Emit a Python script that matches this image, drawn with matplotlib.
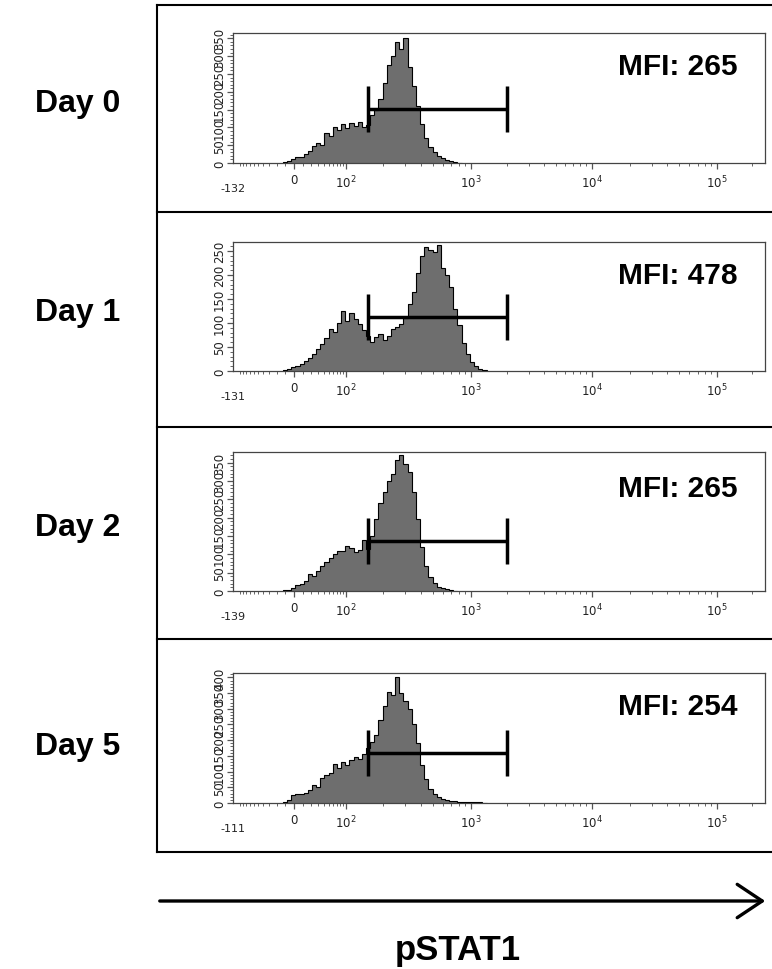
import numpy as np
import matplotlib
matplotlib.use('Agg')
import matplotlib.pyplot as plt
from matplotlib.lines import Line2D
from matplotlib.patches import FancyArrowPatch

# ---------------- data ----------------
days = ['Day 0', 'Day 1', 'Day 2', 'Day 5']
mfi_labels = ['MFI: 265', 'MFI: 478', 'MFI: 265', 'MFI: 254']
axis_min_labels = ['-132', '-131', '-139', '-111']
y_max = [365, 269, 379, 414]
y_top_tick = [350, 250, 350, 400]
gate_lo, gate_hi = 150, 2000
gate_y = [152, 113, 136, 160]
first_channel = 12   # histogram channels (128 display channels across the axis)

counts_day0 = [2, 6, 12, 18, 17, 26, 35, 48, 55, 50, 85, 75, 100, 92, 110, 98, 112, 105,
               115, 102, 108, 135, 150, 180, 225, 275, 300, 340, 320, 352, 270, 215, 160,
               110, 70, 45, 30, 20, 13, 8, 5, 2, 1]
counts_day1 = [2, 4, 8, 11, 15, 20, 28, 36, 45, 56, 68, 88, 82, 100, 125, 105, 120, 108,
               98, 85, 72, 60, 70, 78, 64, 72, 88, 92, 98, 110, 140, 165, 205, 240, 258,
               252, 248, 262, 215, 200, 175, 130, 95, 58, 35, 18, 10, 5, 2]
counts_day2 = [2, 4, 9, 15, 20, 28, 45, 40, 55, 68, 80, 90, 102, 110, 108, 122, 118, 105,
               112, 138, 115, 150, 195, 240, 270, 300, 320, 358, 372, 345, 325, 270, 195,
               120, 68, 38, 22, 12, 8, 5, 3, 1]
counts_day5 = [2, 8, 24, 28, 30, 32, 40, 58, 52, 80, 90, 95, 125, 110, 132, 122, 138, 145,
               140, 155, 175, 195, 218, 265, 310, 355, 345, 400, 350, 325, 300, 250, 190,
               120, 75, 45, 30, 20, 13, 10, 7, 5, 4, 3, 2, 3, 2, 2, 1]
all_counts = [counts_day0, counts_day1, counts_day2, counts_day5]

major_vals = [0, 100, 1000, 10000, 100000]
major_labels = ['0', r'$10^2$', r'$10^3$', r'$10^4$', r'$10^5$']
minor_vals = ([-v for v in range(10, 101, 10)] + list(range(10, 100, 10)) +
              list(range(200, 1000, 100)) + list(range(2000, 10000, 1000)) +
              list(range(20000, 100000, 10000)) + [200000])

# ------------- logicle-like display transform (value -> channel) -------------
anchor_vals = np.array([-132.0, 0.0, 100.0, 1000.0, 1e4, 1e5, 262144.0])
anchor_chan = np.array([0.0, 14.68, 27.19, 57.27, 86.38, 116.46, 128.0])


def chan(v):
    return np.interp(np.arcsinh(np.asarray(v, dtype=float) / 30.0),
                     np.arcsinh(anchor_vals / 30.0), anchor_chan)


W, H = 772, 970
fig = plt.figure(figsize=(W / 100, H / 100), dpi=100)

axes_px = [(34, 164), (243, 372), (453, 592), (674, 804)]   # top, bottom in px
panel_lines = [6, 213, 428, 640, 853]
day_base = [112, 321, 536, 755]
mfi_base = [75, 284, 497, 715]

gray = '#6e6e6e'
frame_c = '#444444'

for i in range(4):
    top, bot = axes_px[i]
    ax = fig.add_axes([233 / W, 1 - bot / H, 532 / W, (bot - top) / H])
    c = all_counts[i]
    edges = np.arange(first_channel, first_channel + len(c) + 1)
    ax.stairs(c, edges, fill=True, color=gray, baseline=0, zorder=2)
    ax.stairs(c, edges, color='black', lw=0.8, baseline=0, zorder=3)

    ax.set_xlim(0, 128)
    ax.set_ylim(0, y_max[i])

    ax.set_xticks(chan(major_vals))
    ax.set_xticklabels(major_labels)
    ax.set_xticks(chan(minor_vals), minor=True)
    ax.set_yticks(np.arange(0, y_top_tick[i] + 1, 50))
    ax.set_yticks(np.arange(0, y_max[i], 10), minor=True)
    ax.tick_params(axis='both', which='major', direction='out', length=4, width=0.9,
                   colors='#555555', labelcolor='#222222', labelsize=8.5, pad=1.5)
    ax.tick_params(axis='x', which='major', pad=3.5)
    ax.tick_params(axis='both', which='minor', direction='out', length=2.5, width=0.7,
                   colors='#666666')
    ax.tick_params(axis='y', labelrotation=90, labelsize=8.5, pad=1)
    for lbl in ax.get_yticklabels():
        lbl.set_va('center')
        lbl.set_family(['Liberation Sans Narrow', 'DejaVu Sans'])
    for sp in ax.spines.values():
        sp.set_color(frame_c)
        sp.set_linewidth(0.9)

    ax.annotate(axis_min_labels[i], xy=(0, 0), xycoords='axes fraction',
                xytext=(0, -25), textcoords='offset pixels', ha='center', va='center',
                fontsize=8, color='#222222')

    # gate
    ax.plot(chan([gate_lo, gate_hi]), [gate_y[i], gate_y[i]], color='black', lw=2.5,
            marker='|', ms=33, mew=2.5, solid_capstyle='butt', zorder=4)

    fig.text(678 / W, 1 - mfi_base[i] / H, mfi_labels[i], ha='center', va='baseline',
             fontsize=21.5, fontweight='bold', family='Liberation Sans')
    fig.text(78 / W, 1 - day_base[i] / H, days[i], ha='center', va='baseline',
             fontsize=23, fontweight='bold', family='Liberation Sans')

# outer frame
for y in panel_lines:
    fig.add_artist(Line2D([157 / W, 1.0], [1 - y / H, 1 - y / H], color='black', lw=1.5,
                          transform=fig.transFigure))
fig.add_artist(Line2D([157 / W, 157 / W], [1 - panel_lines[0] / H, 1 - panel_lines[-1] / H],
                      color='black', lw=1.5, transform=fig.transFigure))

# arrow
arr = FancyArrowPatch((157 / W, 1 - 902 / H), (768 / W, 1 - 902 / H),
                      transform=fig.transFigure, arrowstyle='->,head_length=0.9,head_width=0.6',
                      mutation_scale=20, lw=2.4, color='black')
fig.add_artist(arr)
fig.text(458 / W, 1 - 960 / H, 'pSTAT1', ha='center', va='baseline', fontsize=25,
         fontweight='bold', family='Liberation Sans')

fig.savefig('out.png', dpi=100, facecolor='white')
